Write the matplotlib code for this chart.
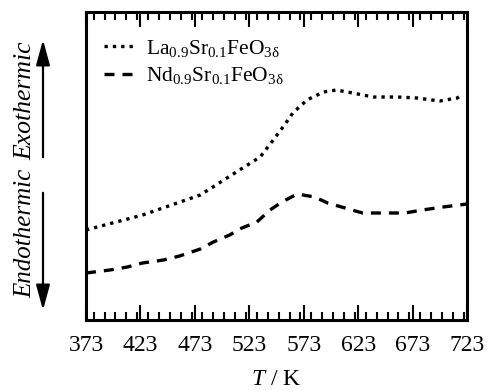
import matplotlib
matplotlib.use("Agg")
import matplotlib.pyplot as plt
from matplotlib.ticker import MultipleLocator, FixedLocator

# Data (arbitrary DTA signal units)
T_la = [373, 425, 478, 514, 533, 545, 554, 563, 576, 591, 603, 618, 637, 659, 677, 698, 714, 718]
S_la = [90, 105, 125, 150, 163, 180, 193, 207, 220, 228, 230, 227, 223, 223, 222, 219, 222, 225]
T_nd = [373, 395, 411, 425, 444, 459, 478, 490, 505, 514, 530, 542, 553, 567, 583, 595, 611, 627, 646, 666, 682, 701, 716, 723]
S_nd = [47, 50, 53, 57, 60, 64, 71, 78, 85, 91, 98, 110, 118, 126, 123, 117, 112, 107, 107, 107, 110, 113, 115, 116]
xticks = [373, 423, 473, 523, 573, 623, 673, 723]
label_la = r"La$_{0.9}$Sr$_{0.1}$FeO$_{3\mathrm{δ}}$"
label_nd = r"Nd$_{0.9}$Sr$_{0.1}$FeO$_{3\mathrm{δ}}$"

plt.rcParams['font.family'] = ['Liberation Serif', 'DejaVu Serif']
plt.rcParams['mathtext.fontset'] = 'custom'
plt.rcParams['mathtext.rm'] = 'Liberation Serif'
plt.rcParams['mathtext.it'] = 'Liberation Serif:italic'

fig = plt.figure(figsize=(4.92, 3.90), dpi=100)
ax = fig.add_axes([86/492, 70/390, 381/492, 308/390])

ax.plot(T_la, S_la, color='black', lw=2.4, linestyle=(0, (1.0, 1.5)), label=label_la)
ax.plot(T_nd, S_nd, color='black', lw=2.4, linestyle=(0, (3.0, 2.4)), label=label_nd)

ax.set_xlim(373, 723)
ax.set_ylim(0, 308)
ax.xaxis.set_major_locator(FixedLocator(xticks))
ax.xaxis.set_minor_locator(MultipleLocator(10))
ax.set_yticks([])
ax.tick_params(axis='x', which='both', direction='in', top=True, bottom=True, width=1.5)
ax.tick_params(axis='x', which='major', length=11, labelsize=17, pad=11)
ax.tick_params(axis='x', which='minor', length=5.5)
for s in ax.spines.values():
    s.set_linewidth(2.2)

ax.set_xlabel(r"$T$ / K", fontsize=17, labelpad=9)

leg = ax.legend(loc='upper left', frameon=False, fontsize=15.5, handlelength=1.35,
                handletextpad=0.6, labelspacing=0.3, borderaxespad=0.3,
                bbox_to_anchor=(0.008, 0.965))

# Exothermic / Endothermic arrows
style = '-|>,head_length=1.1,head_width=0.3'
fig.patches.append(matplotlib.patches.FancyArrowPatch(
    (43/492, 1-160/390), (43/492, 1-37/390), transform=fig.transFigure,
    arrowstyle=style, mutation_scale=14, color='black', lw=1.6))
fig.patches.append(matplotlib.patches.FancyArrowPatch(
    (43/492, 1-190/390), (43/492, 1-313/390), transform=fig.transFigure,
    arrowstyle=style, mutation_scale=14, color='black', lw=1.6))
fig.text(25/492, 1-101/390, "Exothermic", rotation=90, ha='center', va='center',
         fontsize=18.5, style='italic')
fig.text(25/492, 1-233/390, "Endothermic", rotation=90, ha='center', va='center',
         fontsize=18, style='italic')

fig.savefig("out.png", dpi=100)
